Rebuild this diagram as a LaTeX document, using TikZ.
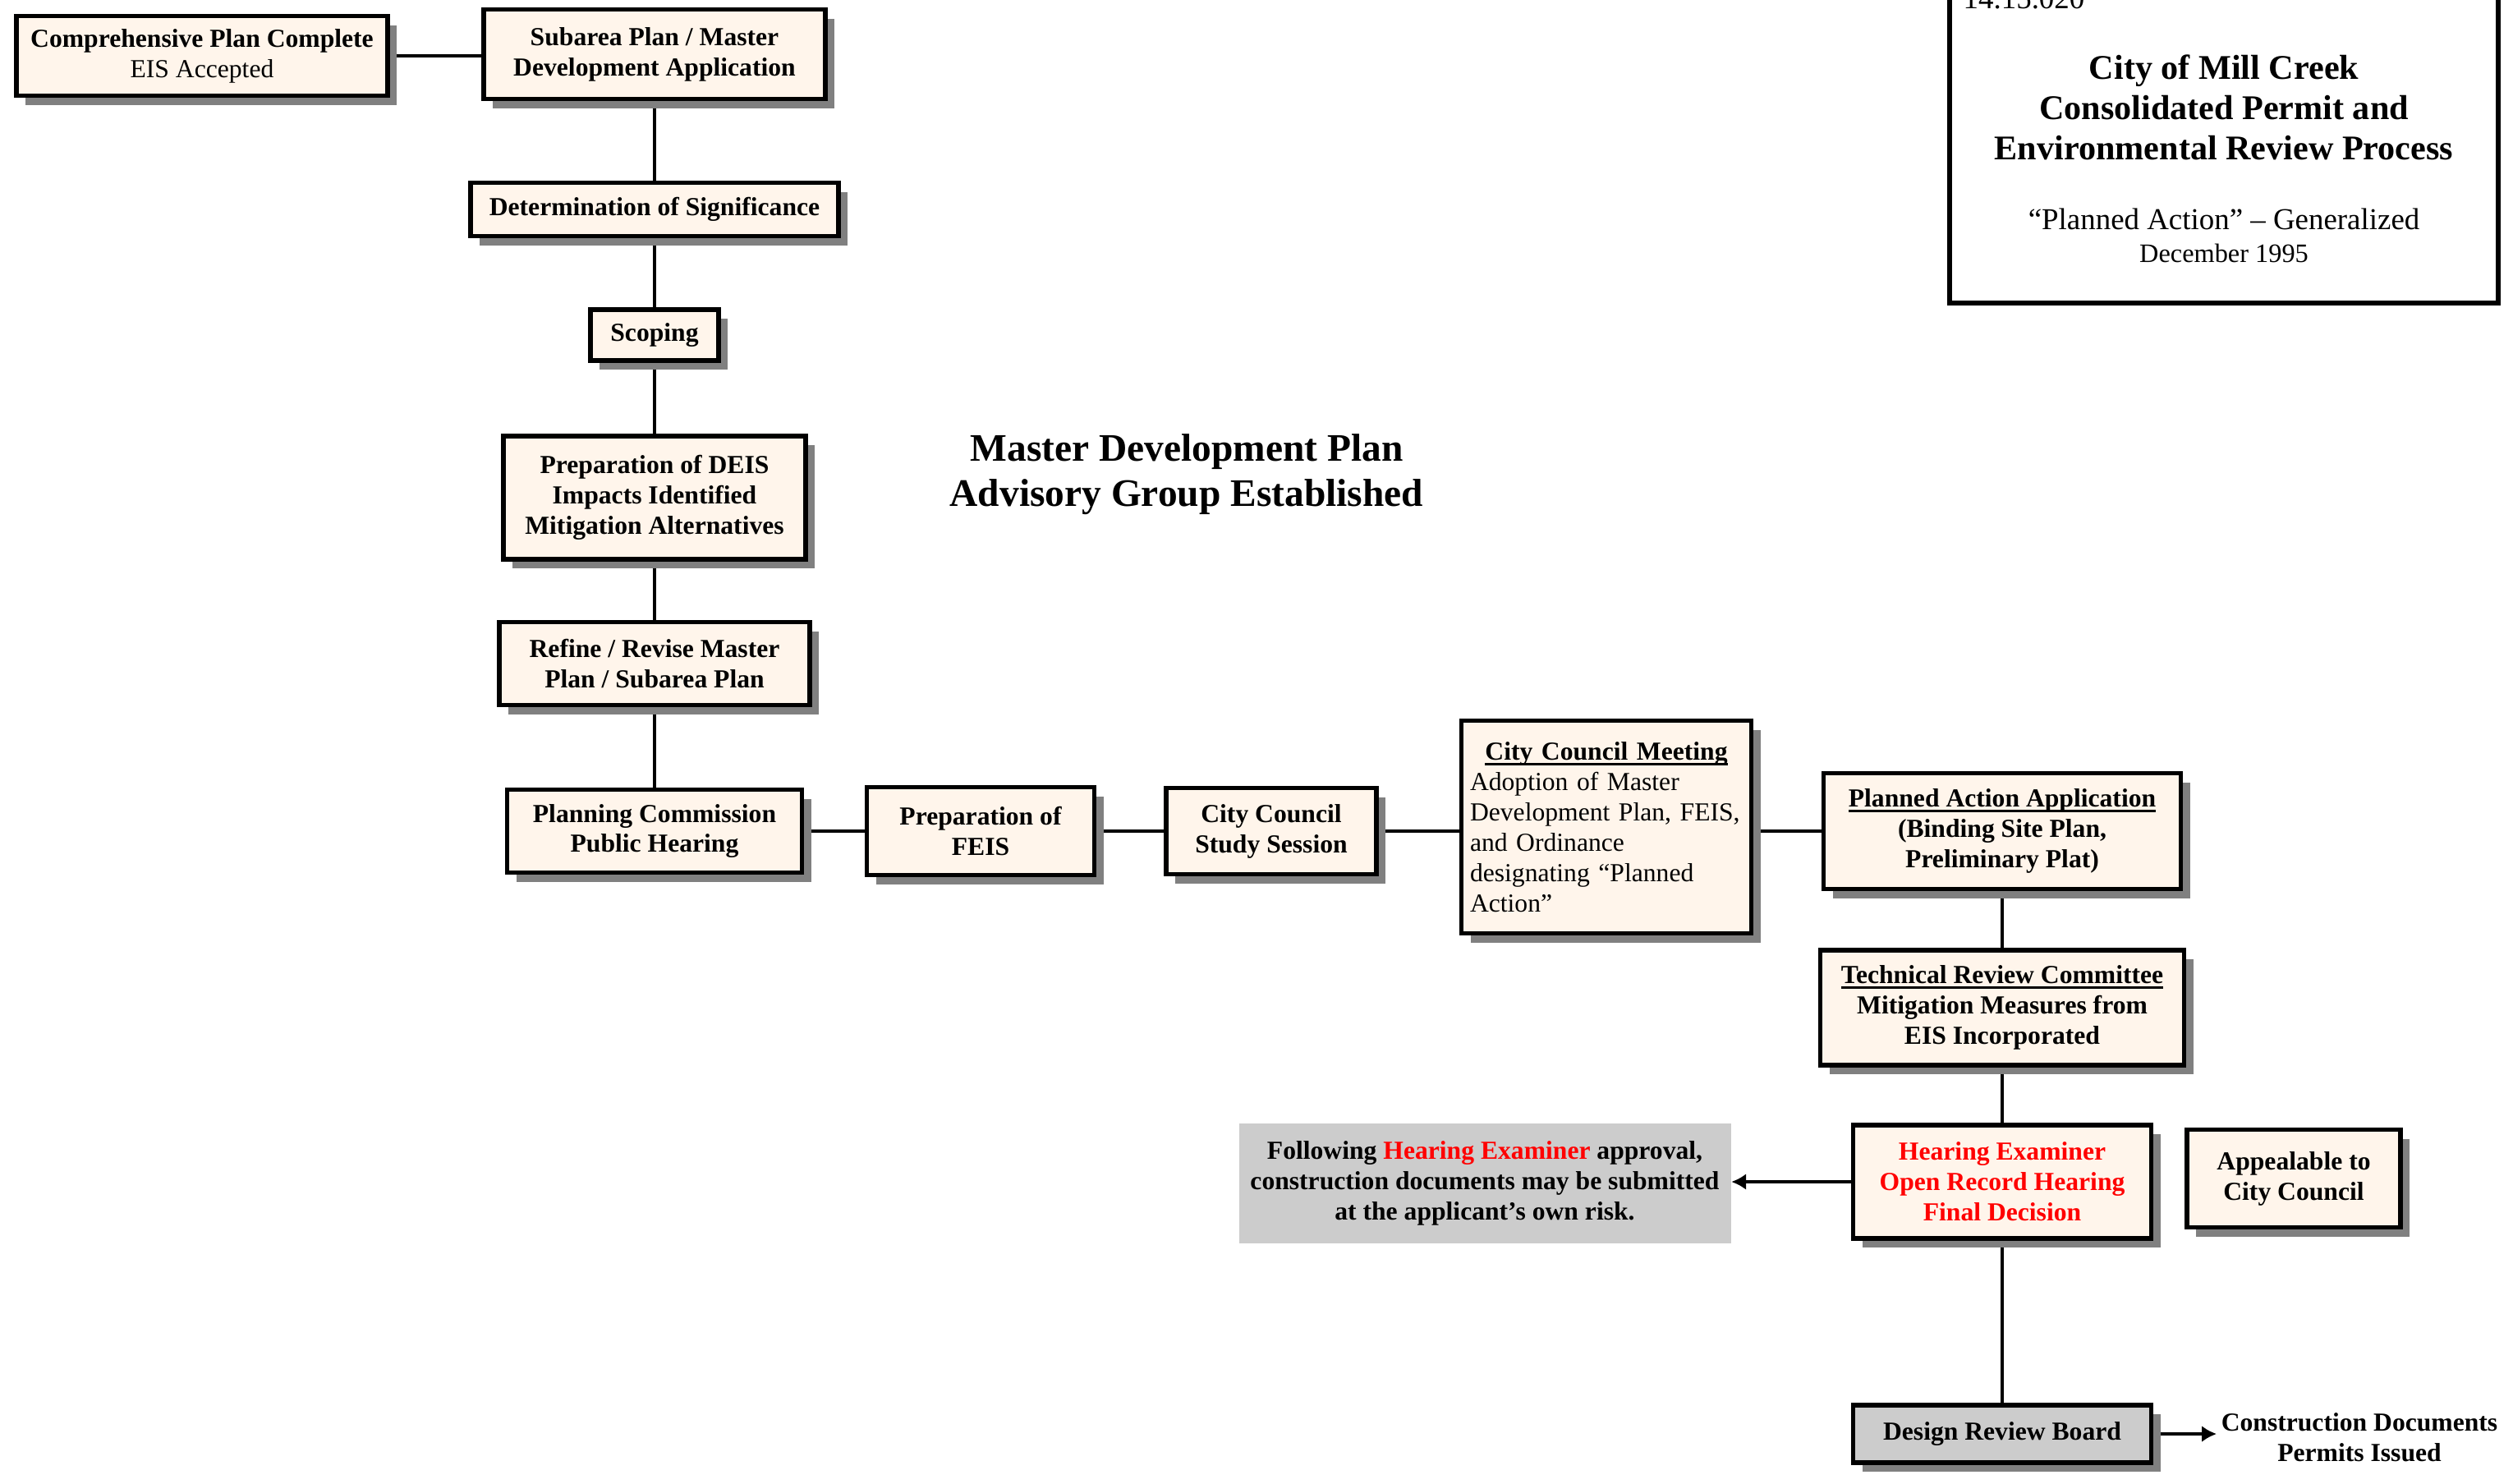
\documentclass[tikz,border=0pt]{standalone}
\usepackage{fontspec}
\setmainfont{Liberation Serif}
\usetikzlibrary{shadows,arrows.meta,backgrounds}
\definecolor{boxfill}{RGB}{255,245,235}
\definecolor{notegray}{RGB}{204,204,204}
\definecolor{examred}{RGB}{255,0,0}
\newsavebox{\headbox}
\newcommand{\headul}[1]{\sbox{\headbox}{#1}\rlap{\rule[-1.8pt]{\wd\headbox}{0.9pt}}\usebox{\headbox}}

\begin{document}
\begin{tikzpicture}[y=-1cm,
    stage/.style={draw,line width=1.6pt,fill=boxfill,align=center,inner sep=0.08cm,
      font=\fontsize{9}{10.5}\selectfont\bfseries,
      drop shadow={shadow xshift=0.11cm,shadow yshift=-0.11cm,fill=black!50,opacity=1}},
    greynote/.style={fill=notegray,align=center,inner sep=0.08cm,
      font=\fontsize{9}{10.5}\selectfont\bfseries},
    link/.style={line width=1.4pt}]
    \useasboundingbox (0,0) rectangle (30.6,18.06);
    % title block
    \draw[line width=1.5pt] (23.74,-0.3) rectangle (30.42,3.69);
    \node[anchor=base west,inner sep=0,font=\fontsize{10.5}{12}\selectfont] (secnum) at (23.90,0.10) {14.15.020};
    \node[align=center,font=\fontsize{12}{14}\selectfont\bfseries] (title) at (27.08,1.31) {City of Mill Creek\\Consolidated Permit and\\Environmental Review Process};
    \node[font=\fontsize{10.5}{11.7}\selectfont] (subtitle) at (27.08,2.67) {“Planned Action” – Generalized};
    \node[font=\fontsize{9.2}{11}\selectfont] (date) at (27.08,3.08) {December 1995};
    \node[align=center,font=\fontsize{13.5}{15.6}\selectfont\bfseries] (advisory) at (14.45,5.78) {Master Development Plan\\Advisory Group Established};
    % left column
    \node[stage,minimum width=4.52cm,minimum height=0.97cm] (compplan) at (2.46,0.68) {Comprehensive Plan Complete\\\mdseries EIS Accepted};
    \node[stage,minimum width=4.16cm,minimum height=1.09cm] (subarea) at (7.97,0.66) {Subarea Plan / Master\\Development Application};
    \node[stage,minimum width=4.48cm,minimum height=0.65cm] (signif) at (7.97,2.55) {Determination of Significance};
    \node[stage,minimum width=1.56cm,minimum height=0.62cm] (scoping) at (7.97,4.08) {Scoping};
    \node[stage,minimum width=3.68cm,minimum height=1.50cm] (deis) at (7.97,6.06) {Preparation of DEIS\\Impacts Identified\\Mitigation Alternatives};
    \node[stage,minimum width=3.78cm,minimum height=1.01cm] (refine) at (7.97,8.08) {Refine / Revise Master\\Plan / Subarea Plan};
    \node[stage,minimum width=3.59cm,minimum height=1.01cm] (pchearing) at (7.97,10.12) {Planning Commission\\Public Hearing};
    % middle row
    \node[stage,minimum width=2.77cm,minimum height=1.07cm] (feis) at (11.94,10.12) {Preparation of\\FEIS};
    \node[stage,minimum width=2.56cm,minimum height=1.05cm] (study) at (15.48,10.12) {City Council\\Study Session};
    \node[stage,minimum width=3.53cm,minimum height=2.59cm,text width=3.32cm,align=left] (ccmeeting) at (19.56,10.07) {\makebox[3.32cm]{\headul{City Council Meeting}}\\\mdseries Adoption of Master\\Development Plan, FEIS,\\and Ordinance\\designating “Planned\\Action”};
    % right column
    \node[stage,minimum width=4.35cm,minimum height=1.41cm] (paapp) at (24.38,10.12) {\headul{Planned Action Application}\\(Binding Site Plan,\\Preliminary Plat)};
    \node[stage,minimum width=4.43cm,minimum height=1.40cm] (trc) at (24.38,12.27) {\headul{Technical Review Committee}\\Mitigation Measures from\\EIS Incorporated};
    \node[stage,minimum width=3.63cm,minimum height=1.38cm,text=examred] (hexam) at (24.38,14.39) {Hearing Examiner\\Open Record Hearing\\Final Decision};
    \node[stage,minimum width=2.60cm,minimum height=1.19cm] (appeal) at (27.93,14.35) {Appealable to\\City Council};
    \node[greynote,minimum width=5.99cm,minimum height=1.46cm] (risknote) at (18.08,14.41) {Following \textcolor{examred}{Hearing Examiner} approval,\\construction documents may be submitted\\at the applicant’s own risk.};
    \node[stage,fill=notegray,minimum width=3.63cm,minimum height=0.70cm] (drb) at (24.38,17.46) {Design Review Board};
    \node[align=center,inner sep=0.05cm,font=\fontsize{9}{10.5}\selectfont\bfseries] (permits) at (28.73,17.50) {Construction Documents\\Permits Issued};
    % connectors
    \begin{scope}[on background layer]
    \draw[link] (compplan.east) -- (compplan.east -| subarea.west);
    \draw[link] (subarea.south) -- (signif.north);
    \draw[link] (signif.south) -- (scoping.north);
    \draw[link] (scoping.south) -- (deis.north);
    \draw[link] (deis.south) -- (refine.north);
    \draw[link] (refine.south) -- (pchearing.north);
    \draw[link] (pchearing.east) -- (feis.west);
    \draw[link] (feis.east) -- (study.west);
    \draw[link] (study.east) -- (study.east -| ccmeeting.west);
    \draw[link] (ccmeeting.east |- paapp.west) -- (paapp.west);
    \draw[link] (paapp.south) -- (trc.north);
    \draw[link] (trc.south) -- (hexam.north);
    \draw[link] (hexam.south) -- (drb.north);
    \draw[link,-{Latex[length=0.18cm,width=0.2cm]}] (hexam.west) -- (hexam.west -| risknote.east);
    \draw[link,-{Latex[length=0.18cm,width=0.2cm]}] (drb.east) -- (drb.east -| permits.west);
    \end{scope}
  \end{tikzpicture}
\end{document}
